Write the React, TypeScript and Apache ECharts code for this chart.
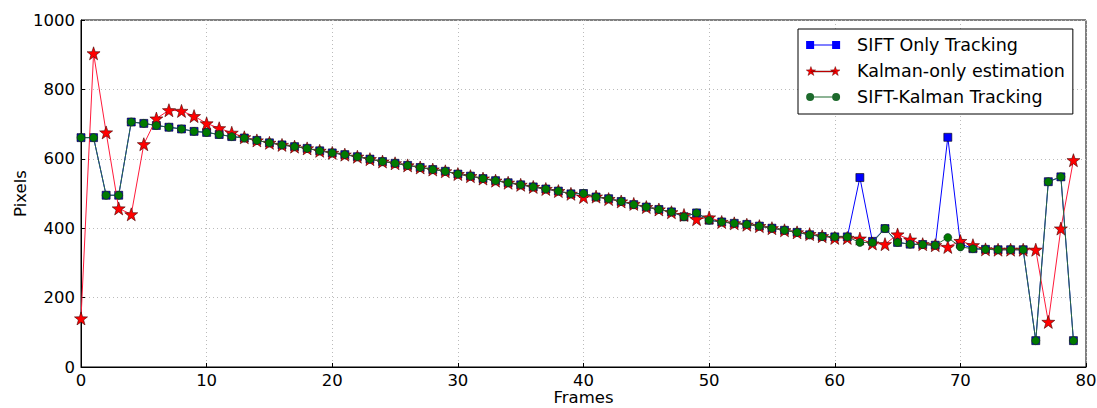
import React, { useEffect, useRef } from "react";
import * as echarts from "echarts";

const frames: number[] = Array.from({ length: 80 }, (_, i) => i);

const siftKalman: number[] = [
  661, 661, 495, 495, 706, 702, 696, 691, 686, 679,
  676, 670, 664, 660, 653, 646, 640, 635, 630, 623,
  617, 612, 606, 599, 592, 587, 581, 575, 569, 564,
  556, 550, 543, 537, 531, 525, 519, 513, 507, 499,
  500, 490, 485, 477, 468, 461, 454, 447, 433, 444,
  423, 418, 414, 411, 406, 400, 394, 388, 381, 376,
  375, 375, 359, 359, 399, 359, 354, 353, 351, 373,
  346, 341, 339, 338, 338, 338, 76, 534, 548, 76,
];

const kalmanOnly: number[] = [
  140, 904, 676, 457, 440, 642, 716, 740, 738, 723,
  702, 688, 675, 662, 653, 646, 640, 635, 630, 623,
  617, 612, 606, 599, 592, 587, 581, 575, 569, 564,
  556, 550, 543, 537, 531, 525, 519, 513, 507, 499,
  490, 491, 484, 477, 470, 461, 454, 446, 438, 426,
  431, 418, 414, 410, 406, 400, 394, 388, 383, 377,
  372, 372, 370, 356, 354, 382, 367, 354, 351, 346,
  363, 351, 339, 338, 338, 338, 338, 130, 399, 596,
];

const siftOnly: number[] = [
  661, 661, 495, 495, 706, 702, 696, 691, 686, 679,
  676, 670, 664, 660, 653, 646, 640, 635, 630, 623,
  617, 612, 606, 599, 592, 587, 581, 575, 569, 564,
  556, 550, 543, 537, 531, 525, 519, 513, 507, 499,
  500, 490, 485, 477, 468, 461, 454, 447, 433, 444,
  423, 418, 414, 411, 406, 400, 394, 388, 381, 376,
  375, 375, 546, 362, 399, 359, 354, 353, 351, 662,
  355, 341, 339, 338, 338, 338, 76, 534, 548, 76,
];

const seriesNames = ["SIFT Only Tracking", "Kalman-only estimation", "SIFT-Kalman Tracking"];

const STAR =
  "path://M0,-10 L2.35,-3.24 L9.51,-3.09 L3.8,1.24 L5.88,8.09 L0,4 L-5.88,8.09 L-3.8,1.24 L-9.51,-3.09 L-2.35,-3.24 Z";

// legend icons: a short line with a marker at each end (matplotlib style)
const LEG_SQUARE = "path://M0,0 H8 V3.5 H26 V0 H34 V8 H26 V4.5 H8 V8 H0 Z";
const starAt = (cx: number) => {
  const pts = [
    [0, -5], [1.176, -1.618], [4.755, -1.545], [1.902, 0.618], [2.939, 4.045],
    [0, 2], [-2.939, 4.045], [-1.902, 0.618], [-4.755, -1.545], [-1.176, -1.618],
  ];
  return "M" + pts.map((p) => `${(p[0] + cx).toFixed(3)},${(p[1] + 5).toFixed(3)}`).join(" L") + " Z";
};
const LEG_STAR =
  "path://" + starAt(4.755) + " " + starAt(29.245) + " M4.755,4.5 H29.245 V5.5 H4.755 Z";
const LEG_CIRCLE =
  "path://M0,4 A4,4 0 1,1 8,4 A4,4 0 1,1 0,4 Z M26,4 A4,4 0 1,1 34,4 A4,4 0 1,1 26,4 Z M4,3.5 H30 V4.5 H4 Z";

const FONT = "DejaVu Sans";
const TICK_FS = 16.5;

export default function App() {
  const ref = useRef<HTMLDivElement>(null);
  useEffect(() => {
    if (!ref.current) return;
    const chart = echarts.init(ref.current, undefined, { renderer: "svg" });
    const pair = (arr: number[]) => frames.map((f, i) => [f, arr[i]]);
    chart.setOption({
      animation: false,
      backgroundColor: "#fff",
      textStyle: { fontFamily: FONT },
      grid: {
        left: 81,
        right: 11,
        top: 20,
        bottom: 41,
        show: true,
        borderColor: "#000",
        borderWidth: 1,
        containLabel: false,
        outerBoundsMode: "none",
      },
      legend: {
        left: 798,
        top: 29,
        orient: "vertical",
        data: [
          { name: seriesNames[0], icon: LEG_SQUARE, itemStyle: { borderWidth: 0 } },
          { name: seriesNames[1], icon: LEG_STAR, itemStyle: { borderWidth: 0.4 } },
          { name: seriesNames[2], icon: LEG_CIRCLE, itemStyle: { borderWidth: 0, color: "#1d6a2c" } },
        ],
        borderColor: "#000",
        borderWidth: 1,
        padding: [7, 8, 8, 8],
        itemWidth: 34,
        itemHeight: 9,
        itemGap: 8,
        backgroundColor: "#fff",
        textStyle: {
          fontFamily: FONT,
          fontSize: 17.5,
          lineHeight: 18,
          color: "#000",
          padding: [0, 0, 0, 12],
        },
      },
      xAxis: {
        type: "value",
        min: 0,
        max: 80,
        interval: 10,
        name: "Frames",
        nameLocation: "middle",
        nameGap: 22,
        nameMoveOverlap: false,
        nameTextStyle: { fontFamily: FONT, fontSize: TICK_FS, lineHeight: 17, color: "#000" },
        axisLine: { show: true, lineStyle: { color: "#000" } },
        axisTick: { show: true, inside: true, length: 4, lineStyle: { color: "#000" } },
        axisLabel: { fontFamily: FONT, fontSize: TICK_FS, lineHeight: 17, color: "#000", margin: 5 },
        splitLine: { show: true, lineStyle: { color: "#bbb", type: [1, 3] } },
      },
      yAxis: {
        type: "value",
        min: 0,
        max: 1000,
        interval: 200,
        name: "Pixels",
        nameLocation: "middle",
        nameGap: 52,
        nameMoveOverlap: false,
        nameTextStyle: { fontFamily: FONT, fontSize: TICK_FS, color: "#000" },
        axisLine: { show: true, lineStyle: { color: "#000" } },
        axisTick: { show: true, inside: true, length: 4, lineStyle: { color: "#000" } },
        axisLabel: {
          fontFamily: FONT,
          fontSize: TICK_FS,
          color: "#000",
          margin: 6,
          formatter: (v: number) => String(v),
        },
        splitLine: { show: true, lineStyle: { color: "#bbb", type: [1, 3] } },
      },
      series: [
        {
          name: seriesNames[0],
          type: "line",
          data: pair(siftOnly),
          symbol: "rect",
          symbolSize: 8,
          showAllSymbol: true,
          lineStyle: { color: "#0000ff", width: 1 },
          itemStyle: { color: "#0000ff", borderColor: "#000", borderWidth: 0.6 },
          z: 2,
        },
        {
          name: seriesNames[1],
          type: "line",
          data: pair(kalmanOnly),
          symbol: STAR,
          symbolSize: 13,
          showAllSymbol: true,
          lineStyle: { color: "#ff1a3a", width: 1 },
          itemStyle: { color: "#ff0000", borderColor: "#400", borderWidth: 0.6 },
          z: 3,
        },
        {
          name: seriesNames[2],
          type: "line",
          data: pair(siftKalman),
          symbol: "circle",
          symbolSize: 8,
          showAllSymbol: true,
          lineStyle: { color: "#2a6a3a", width: 1 },
          itemStyle: { color: "#007a00", borderColor: "#123", borderWidth: 0.6 },
          z: 4,
        },
      ],
    });
    return () => chart.dispose();
  }, []);
  return (
    <div
      ref={ref}
      style={{ position: "fixed", left: 0, top: 0, width: 1097, height: 408 }}
    />
  );
}
